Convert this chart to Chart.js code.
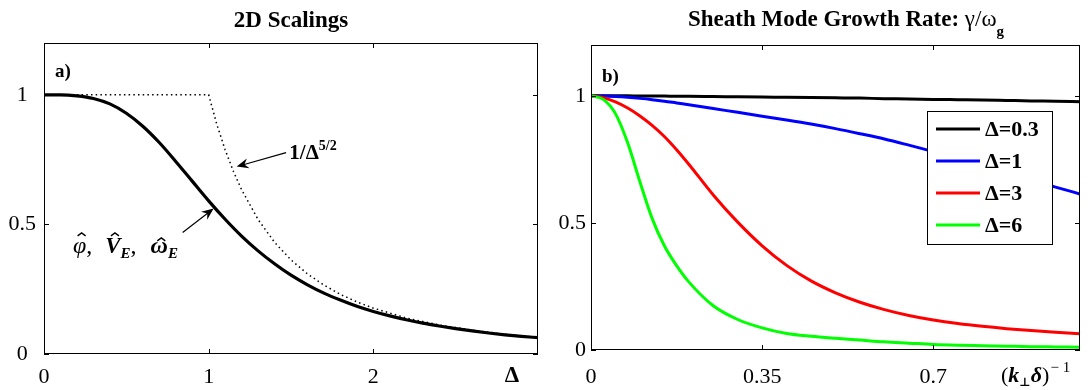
<!DOCTYPE html>
<html>
<head>
<meta charset="utf-8">
<script src="https://cdn.jsdelivr.net/npm/chart.js@4"></script>
<style>
  body { margin: 0; background: #fff; }
  #wrap { position: relative; width: 1091px; height: 390px; }
  canvas { position: absolute; top: 0; }
</style>
</head>
<body>
<div id="wrap">
  <canvas id="scalingChart" width="545" height="390" style="left:0"></canvas>
  <canvas id="growthChart" width="546" height="390" style="left:545px"></canvas>
</div>
<script>
const SERIF = "'Liberation Serif', 'DejaVu Serif', serif";

// panel a) : 2D scalings vs Delta
let deltaX = [0, 0.1, 0.2, 0.3, 0.4, 0.5, 0.6, 0.7, 0.8, 0.9, 1.0, 1.1, 1.2, 1.3, 1.4, 1.5,
              1.6, 1.7, 1.8, 1.9, 2.0, 2.1, 2.2, 2.3, 2.4, 2.5, 2.6, 2.7, 2.8, 2.9, 3.0];
let fieldHat = [1.0, 1.0, 0.996, 0.986, 0.965, 0.929, 0.879, 0.816, 0.743, 0.667, 0.591, 0.52,
                0.455, 0.398, 0.348, 0.304, 0.267, 0.235, 0.208, 0.184, 0.164, 0.147, 0.132,
                0.119, 0.108, 0.098, 0.089, 0.081, 0.074, 0.068, 0.063];
let dotX = [0, 0.5, 1.0, 1.05, 1.1, 1.15, 1.2, 1.3, 1.4, 1.5, 1.6, 1.7, 1.8, 1.9, 2.0, 2.2, 2.4, 2.6, 2.8, 3.0];
let dotLimit = [1, 1, 1, 0.885, 0.788, 0.705, 0.634, 0.519, 0.431, 0.363, 0.309, 0.266, 0.23,
                0.201, 0.177, 0.139, 0.112, 0.092, 0.076, 0.064];
let xTicksA = [0, 1, 2];

// panel b) : growth rate vs (k delta)^-1
let kX = [0, 0.025, 0.05, 0.075, 0.1, 0.125, 0.15, 0.175, 0.2, 0.25, 0.3, 0.35, 0.4, 0.45,
          0.5, 0.55, 0.6, 0.65, 0.7, 0.75, 0.8, 0.85, 0.9, 0.95, 1.0];
let rateD03 = [1, 1, 1, 1, 0.999, 0.999, 0.999, 0.998, 0.998, 0.997, 0.996, 0.995, 0.994, 0.993,
               0.992, 0.991, 0.989, 0.988, 0.986, 0.985, 0.984, 0.982, 0.98, 0.979, 0.977];
let rateD1 = [1, 0.999, 0.997, 0.994, 0.99, 0.985, 0.979, 0.972, 0.965, 0.95, 0.935, 0.92, 0.905,
              0.889, 0.871, 0.851, 0.83, 0.806, 0.781, 0.754, 0.726, 0.698, 0.669, 0.641, 0.614];
let rateD3 = [1, 0.993, 0.976, 0.952, 0.921, 0.884, 0.84, 0.788, 0.731, 0.61, 0.503, 0.41, 0.333,
              0.272, 0.225, 0.188, 0.159, 0.136, 0.118, 0.104, 0.093, 0.084, 0.0765, 0.07, 0.064];
let rateD6 = [1, 0.986, 0.93, 0.815, 0.662, 0.518, 0.41, 0.332, 0.268, 0.174, 0.12, 0.087, 0.065,
              0.054, 0.046, 0.039, 0.032, 0.027, 0.022, 0.019, 0.017, 0.015, 0.013, 0.012, 0.011];
let xTicksB = [0, 0.35, 0.7];
let yTicks = [0, 0.5, 1];

function pts(xs, ys) {
    return xs.map((v, i) => ({ x: v, y: ys[i] }));
}

// 文字分段绘制 (hat = 字母上方的 ^)
function runs(ctx, x, y, parts) {
    parts.forEach(p => {
        ctx.font = p.f + " " + SERIF;
        let yy = y + (p.dy || 0);
        ctx.fillText(p.t, x, yy);
        let w = ctx.measureText(p.t).width;
        if (p.hat) {
            let cx = x + w / 2 + 2;
            ctx.save();
            ctx.lineWidth = 1.4;
            ctx.beginPath();
            ctx.moveTo(cx - 4, yy - p.hat + 3);
            ctx.lineTo(cx, yy - p.hat);
            ctx.lineTo(cx + 4, yy - p.hat + 3);
            ctx.stroke();
            ctx.restore();
        }
        x += w + (p.gap || 0);
    });
    return x;
}

function arrow(ctx, x1, y1, x2, y2) {
    let ang = Math.atan2(y2 - y1, x2 - x1);
    ctx.beginPath();
    ctx.moveTo(x1, y1);
    ctx.lineTo(x2 - Math.cos(ang) * 6, y2 - Math.sin(ang) * 6);
    ctx.stroke();
    ctx.save();
    ctx.translate(x2, y2);
    ctx.rotate(ang);
    ctx.beginPath();
    ctx.moveTo(0, 0);
    ctx.lineTo(-12, -5);
    ctx.lineTo(-8, 0);
    ctx.lineTo(-12, 5);
    ctx.closePath();
    ctx.fill();
    ctx.restore();
}

// 边框 + 向内的刻度
const frameTicks = {
    id: "frameTicks",
    afterDatasetsDraw(chart) {
        let { ctx, chartArea: a, scales: { x, y } } = chart;
        ctx.save();
        ctx.strokeStyle = "#000";
        ctx.lineWidth = 1;
        ctx.strokeRect(a.left + 0.5, a.top + 0.5, a.right - a.left - 1, a.bottom - a.top - 1);
        ctx.beginPath();
        x.ticks.forEach(t => {
            let px = Math.round(x.getPixelForValue(t.value)) + 0.5;
            ctx.moveTo(px, a.bottom); ctx.lineTo(px, a.bottom - 5);
            ctx.moveTo(px, a.top); ctx.lineTo(px, a.top + 5);
        });
        y.ticks.forEach(t => {
            let py = Math.round(y.getPixelForValue(t.value)) + 0.5;
            ctx.moveTo(a.left, py); ctx.lineTo(a.left + 5, py);
            ctx.moveTo(a.right, py); ctx.lineTo(a.right - 5, py);
        });
        ctx.stroke();
        ctx.restore();
    }
};

const leftNotes = {
    id: "leftNotes",
    afterDraw(chart) {
        let { ctx, chartArea: a, scales: { x, y } } = chart;
        ctx.save();
        ctx.fillStyle = "#000";
        ctx.strokeStyle = "#000";
        ctx.textBaseline = "alphabetic";
        ctx.textAlign = "center";
        ctx.font = "bold 23px " + SERIF;
        ctx.fillText("2D Scalings", (a.left + a.right) / 2, 27);
        ctx.fillText("Δ", 512, 382);
        ctx.textAlign = "left";
        ctx.font = "bold 19px " + SERIF;
        ctx.fillText("a)", 55, 77);

        ctx.lineWidth = 1.2;
        arrow(ctx, x.getPixelForValue(1.47), y.getPixelForValue(0.777),
                   x.getPixelForValue(1.17), y.getPixelForValue(0.723));
        runs(ctx, x.getPixelForValue(1.49), y.getPixelForValue(0.754), [
            { t: "1/Δ", f: "bold 21px" },
            { t: "5/2", f: "bold 14px", dy: -9 }
        ]);

        arrow(ctx, x.getPixelForValue(0.842), y.getPixelForValue(0.469),
                   x.getPixelForValue(1.03), y.getPixelForValue(0.5615));
        runs(ctx, x.getPixelForValue(0.176), y.getPixelForValue(0.39), [
            { t: "φ", f: "italic 24px", hat: 20 },
            { t: ",", f: "24px", gap: 13 },
            { t: "V", f: "italic bold 23px", hat: 20 },
            { t: "E", f: "italic bold 15px", dy: 5 },
            { t: ",", f: "24px", gap: 14 },
            { t: "ω", f: "italic bold 24px", hat: 15 },
            { t: "E", f: "italic bold 15px", dy: 5 }
        ]);
        ctx.restore();
    }
};

const rightNotes = {
    id: "rightNotes",
    afterDraw(chart) {
        let { ctx, chartArea: a } = chart;
        ctx.save();
        ctx.fillStyle = "#000";
        ctx.textBaseline = "alphabetic";
        ctx.textAlign = "left";
        runs(ctx, 143, 26, [
            { t: "Sheath Mode Growth Rate: ", f: "bold 23px" },
            { t: "γ/ω", f: "23px" },
            { t: "g", f: "bold 15px", dy: 10 }
        ]);
        ctx.font = "bold 19px " + SERIF;
        ctx.fillText("b)", 57, 82);

        runs(ctx, 456, 382, [
            { t: "(", f: "22px" },
            { t: "k", f: "italic bold 22px" },
            { t: "⊥", f: "bold 12px", dy: 4 },
            { t: "δ", f: "italic bold 22px" },
            { t: ")", f: "22px", gap: 1 },
            { t: "− 1", f: "15px", dy: -10 }
        ]);

        // legend
        let bx = a.right - 153, by = a.top + 66, bw = 125, bh = 133;
        ctx.fillStyle = "#fff";
        ctx.fillRect(bx, by, bw, bh);
        ctx.strokeStyle = "#000";
        ctx.lineWidth = 1;
        ctx.strokeRect(bx + 0.5, by + 0.5, bw, bh);
        ctx.textBaseline = "middle";
        ctx.font = "bold 22px " + SERIF;
        chart.data.datasets.forEach((ds, i) => {
            let ly = by + 18 + i * 32;
            ctx.strokeStyle = ds.borderColor;
            ctx.lineWidth = 3;
            ctx.beginPath();
            ctx.moveTo(bx + 9, ly);
            ctx.lineTo(bx + 53, ly);
            ctx.stroke();
            ctx.fillStyle = "#000";
            ctx.fillText(ds.label, bx + 58, ly + 1);
        });
        ctx.restore();
    }
};

Chart.defaults.font.family = SERIF;
Chart.defaults.font.size = 22;
Chart.defaults.color = "#000";

function axisX(min, max, ticks, pad, h) {
    return {
        type: "linear", min: min, max: max,
        afterBuildTicks: s => { s.ticks = ticks.map(v => ({ value: v })); },
        afterFit: s => { s.height = h; },
        grid: { display: false, drawTicks: false },
        border: { display: false },
        ticks: { padding: pad, autoSkip: false, maxRotation: 0, callback: v => String(v) }
    };
}
function axisY(w, pad, align) {
    return {
        min: 0, max: 1.2,
        afterBuildTicks: s => { s.ticks = yTicks.map(v => ({ value: v })); },
        afterFit: s => { s.width = w; },
        grid: { display: false, drawTicks: false },
        border: { display: false },
        ticks: { padding: pad, crossAlign: align, autoSkip: false, callback: v => String(v) }
    };
}

new Chart(document.getElementById("scalingChart"), {
    type: "scatter",
    data: {
        datasets: [
            {
                label: "phi, V_E, omega_E",
                data: pts(deltaX, fieldHat),
                showLine: true, borderColor: "#000", borderWidth: 3.2,
                pointRadius: 0, cubicInterpolationMode: "monotone"
            },
            {
                label: "1/Delta^(5/2)",
                data: pts(dotX, dotLimit),
                showLine: true, borderColor: "#000", borderWidth: 1.5,
                borderDash: [1.5, 3.2], pointRadius: 0, tension: 0
            }
        ]
    },
    options: {
        responsive: false, animation: false, events: [],
        layout: { padding: { left: 0, right: 7, top: 43, bottom: 0 } },
        plugins: { legend: { display: false }, tooltip: { enabled: false } },
        scales: { x: axisX(0, 3, xTicksA, 10, 36), y: axisY(44, 8, "center") }
    },
    plugins: [frameTicks, leftNotes]
});

new Chart(document.getElementById("growthChart"), {
    type: "scatter",
    data: {
        datasets: [
            { label: "Δ=0.3", data: pts(kX, rateD03), borderColor: "#000000", order: 4 },
            { label: "Δ=1", data: pts(kX, rateD1), borderColor: "#0000ff", order: 3 },
            { label: "Δ=3", data: pts(kX, rateD3), borderColor: "#ff0000", order: 2 },
            { label: "Δ=6", data: pts(kX, rateD6), borderColor: "#00ff00", order: 1 }
        ].map(d => Object.assign(d, {
            showLine: true, borderWidth: 3, pointRadius: 0, cubicInterpolationMode: "monotone"
        }))
    },
    options: {
        responsive: false, animation: false, events: [],
        layout: { padding: { left: 0, right: 11, top: 45, bottom: 0 } },
        plugins: { legend: { display: false }, tooltip: { enabled: false } },
        scales: { x: axisX(0, 1, xTicksB, 14, 40), y: axisY(46, 5, "near") }
    },
    plugins: [frameTicks, rightNotes]
});
</script>
</body>
</html>
